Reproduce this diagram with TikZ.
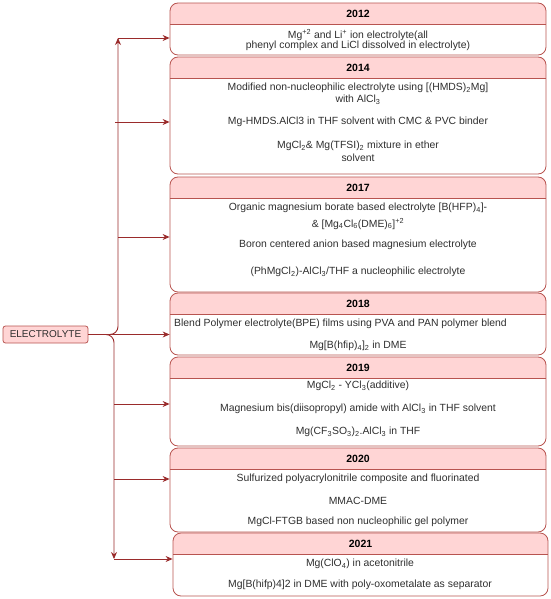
\documentclass[tikz,border=0pt]{standalone}
\usepackage{fontspec}
\setmainfont{Liberation Sans}
\usetikzlibrary{calc, positioning, fit}
\usetikzlibrary{arrows.meta}

\definecolor{boxred}{HTML}{B85450}
\definecolor{headpink}{HTML}{FFD5D5}
\definecolor{linkred}{HTML}{9A2B2B}
\definecolor{txtgray}{HTML}{2E2E2E}

\tikzset{
  boxframe/.style={draw=boxred, line width=0.8pt, rounded corners=8pt, inner sep=0pt},
  yeartext/.style={font=\bfseries\fontsize{10.5}{12}\selectfont, text=black},
  entry/.style={font=\fontsize{10.4}{12}\selectfont, text=txtgray, inner sep=0pt},
  rootbox/.style={draw=boxred, fill=headpink, line width=0.8pt, rounded corners=2.5pt,
    minimum width=85pt, minimum height=17pt, inner sep=0pt,
    font=\fontsize{10}{12}\selectfont, text=txtgray},
  link/.style={draw=linkred, line width=0.9pt, -{Stealth[length=7pt,width=6pt]}},
  trunk/.style={draw=linkred, line width=0.9pt, rounded corners=8pt},
}

% year box: name, left, top, right, bottom, year
\newcommand{\yearbox}[6]{%
  \begin{scope}
    \clip[rounded corners=8pt] (#2,#3) rectangle (#4,#5);
    \fill[headpink] (#2,#3) rectangle (#4,#3+21);
  \end{scope}
  \draw[boxred, line width=0.8pt] (#2,#3+21) -- (#4,#3+21);
  \node[boxframe, fit={(#2,#3) (#4,#5)}] (#1) {};
  \node[yeartext] (#1y) at ($(#2,#3)!0.5!(#4,#3+21)$) {#6};
}

\begin{document}
\begin{tikzpicture}[x=1pt, y=-1pt]
\useasboundingbox (0,0) rectangle (550,599);

% Year boxes.
\yearbox{b2012}{170}{3}{546}{55}{2012}
\yearbox{b2014}{170}{57}{546}{174}{2014}
\yearbox{b2017}{170}{177}{546}{292}{2017}
\yearbox{b2018}{170}{293}{546}{355}{2018}
\yearbox{b2019}{170}{357}{546}{446}{2019}
\yearbox{b2020}{170}{448}{546}{532}{2020}
\yearbox{b2021}{173}{533}{548}{596}{2021}

% Entries.
\node[entry] (e12a) at (358,35) {Mg\textsuperscript{+2} and Li\textsuperscript{+} ion electrolyte(all};
\node[entry] (e12b) at (358,46) {phenyl complex and LiCl dissolved in electrolyte)};

\node[entry] (e14a) at (358,88) {Modified non-nucleophilic electrolyte using [(HMDS)\textsubscript{2}Mg]};
\node[entry] (e14b) at (358,100) {with AlCl\textsubscript{3}};
\node[entry] (e14c) at (358,122) {Mg-HMDS.AlCl3 in THF solvent with CMC \& PVC binder};
\node[entry] (e14d) at (358,146) {MgCl\textsubscript{2}\& Mg(TFSI)\textsubscript{2} mixture in ether};
\node[entry] (e14e) at (358,158) {solvent};

\node[entry] (e17a) at (358,208) {Organic magnesium borate based electrolyte [B(HFP)\textsubscript{4}]-};
\node[entry] (e17b) at (358,224) {\& [Mg\textsubscript{4}Cl\textsubscript{6}(DME)\textsubscript{6}]\textsuperscript{+2}};
\node[entry] (e17c) at (358,245) {Boron centered anion based magnesium electrolyte};
\node[entry] (e17d) at (358,272) {(PhMgCl\textsubscript{2})-AlCl\textsubscript{3}/THF a nucleophilic electrolyte};

\node[entry, anchor=west] (e18a) at (174,324) {Blend Polymer electrolyte(BPE) films using PVA and PAN polymer blend};
\node[entry] (e18b) at (358,346) {Mg[B(hfip)\textsubscript{4}]\textsubscript{2} in DME};

\node[entry] (e19a) at (358,386) {MgCl\textsubscript{2} - YCl\textsubscript{3}(additive)};
\node[entry] (e19b) at (358,409) {Magnesium bis(diisopropyl) amide with AlCl\textsubscript{3} in THF solvent};
\node[entry] (e19c) at (358,432) {Mg(CF\textsubscript{3}SO\textsubscript{3})\textsubscript{2}.AlCl\textsubscript{3} in THF};

\node[entry] (e20a) at (358,479) {Sulfurized polyacrylonitrile composite and fluorinated};
\node[entry] (e20b) at (358,501) {MMAC-DME};
\node[entry] (e20c) at (358,522) {MgCl-FTGB based non nucleophilic gel polymer};

\node[entry] (e21a) at (360,564) {Mg(ClO\textsubscript{4}) in acetonitrile};
\node[entry] (e21b) at (360,585) {Mg[B(hifp)4]2 in DME with poly-oxometalate as separator};

% Root node.
\node[rootbox] (root) at (45.5,334.5) {ELECTROLYTE};

% Trunk lines.
\coordinate (up) at (118,38);
\coordinate (dn) at (114,559);
\draw[trunk, -{Stealth[length=7pt,width=6pt]}] (root.east) -- (up |- root.east) -- (up);
\draw[trunk, -{Stealth[length=7pt,width=6pt]}] (root.east) -- (dn |- root.east) -- (dn);

% Branches into the year boxes.
\draw[link] (up) -- (up -| b2012.west);
\draw[link] (115,122) -- (b2014.west |- 0,122);
\draw[link] (118,237) -- (b2017.west |- 0,237);
\draw[link] (root.east) -- (root.east -| b2018.west);
\draw[link] (114,404) -- (b2019.west |- 0,404);
\draw[link] (114,479) -- (b2020.west |- 0,479);
\draw[link] (dn) -- (dn -| b2021.west);
\end{tikzpicture}
\end{document}
